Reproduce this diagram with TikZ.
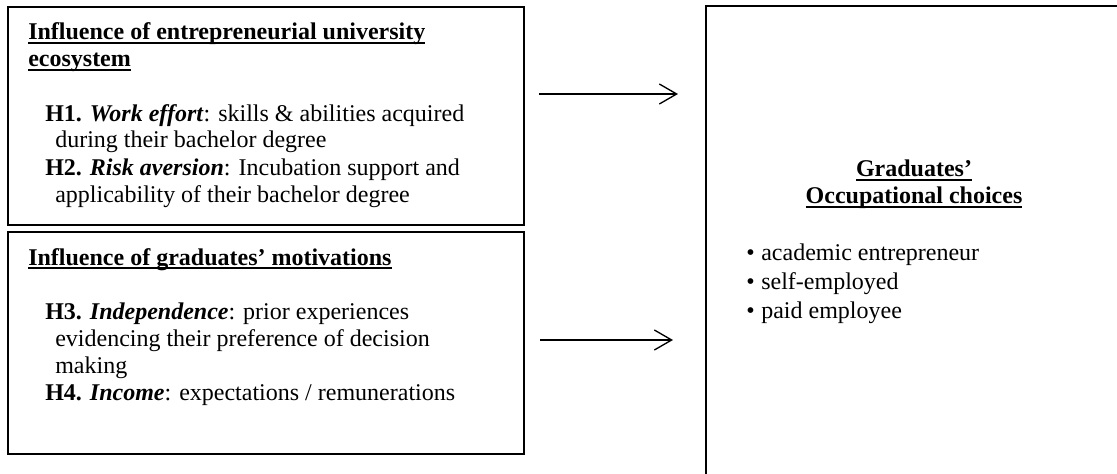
\documentclass[tikz,border=0pt]{standalone}
\usepackage{fontspec}
\setmainfont{Liberation Serif}
\usetikzlibrary{positioning,arrows.meta}
% sottolineatura stretta
\newcommand{\undl}[1]{\setbox0\hbox{#1}\rlap{\vrule height -1.6pt depth 3pt width \wd0}\box0}
\tikzset{
    % cornice dei riquadri
    frame/.style={draw, rectangle, line width=1.2pt, inner sep=0pt},
    % titoli sottolineati (ancorati all'ultima riga)
    heading/.style={anchor=base west, align=left, inner sep=0pt,
                    font=\fontsize{18}{20.25}\selectfont\bfseries},
    % ipotesi e elenchi
    hypo/.style={anchor=base west, align=left, inner sep=0pt,
                 font=\fontsize{18}{20.25}\selectfont},
    % frecce
    link/.style={line width=1pt, -{Straight Barb[length=13pt,width=15pt]}}
}

\begin{document}
\begin{tikzpicture}[x=0.75pt, y=-0.75pt]
    \useasboundingbox (0,0) rectangle (1117,474);

    % riquadri
    \node[frame, anchor=north west, minimum width=387pt, minimum height=163.5pt] (eco) at (7,6) {};
    \node[frame, anchor=north west, minimum width=387pt, minimum height=166.5pt] (mot) at (7,231) {};
    \node[frame, anchor=north west, minimum width=313.5pt, minimum height=375pt] (occ) at (705,5) {};

    % ecosistema universitario
    \node[heading] (ecotitle) at (28,67)
        {\undl{Influence of entrepreneurial university}\\\undl{ecosystem}};
    \node[hypo] (hypA) at (45,202)
        {\textbf{H1.} \textbf{\textit{Work effort}}: skills \& abilities acquired\\
         \hspace*{7.5pt}during their bachelor degree\\
         \textbf{H2.} \textbf{\textit{Risk aversion}}: Incubation support and\\
         \hspace*{7.5pt}applicability of their bachelor degree};

    % motivazioni
    \node[heading] (mottitle) at (28,265)
        {\undl{Influence of graduates' motivations}};
    \node[hypo] (hypB) at (45,400)
        {\textbf{H3.} \textbf{\textit{Independence}}: prior experiences\\
         \hspace*{7.5pt}evidencing their preference of decision\\
         \hspace*{7.5pt}making\\
         \textbf{H4.} \textbf{\textit{Income}}: expectations / remunerations};

    % scelte occupazionali
    \node[heading, anchor=base, align=center] (occtitle) at (914,204)
        {\undl{Graduates'}\\\undl{Occupational choices}};
    \node[hypo, font=\fontsize{18}{21.75}\selectfont] (choices) at (746,318)
        {\textbullet\hspace{5pt}academic entrepreneur\\
         \textbullet\hspace{5pt}self-employed\\
         \textbullet\hspace{5pt}paid employee};

    % frecce
    \coordinate (linkAin) at (539,94);
    \coordinate (linkAout) at (678,94);
    \coordinate (linkBin) at (540,340);
    \coordinate (linkBout) at (673,340);
    \draw[link] (linkAin) -- (linkAout);
    \draw[link] (linkBin) -- (linkBout);
\end{tikzpicture}
\end{document}
